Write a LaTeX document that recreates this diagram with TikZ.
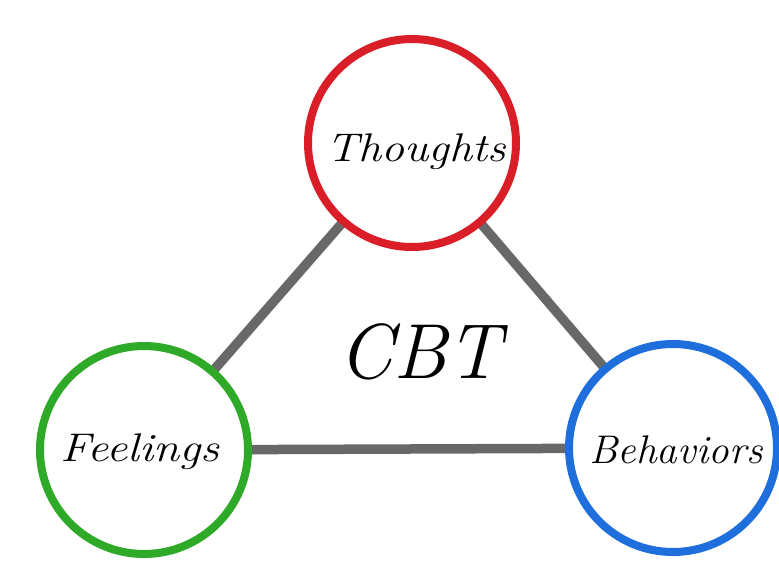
\documentclass[tikz,border=0pt]{standalone}
\begin{document}
\begin{tikzpicture}[x=1pt,y=-1pt,
  link/.style={line width=9.5pt,draw={rgb,255:red,104;green,104;blue,104}},
  bubble/.style={circle,minimum size=208pt,line width=8pt,fill=white,inner sep=0pt},
  word/.style={font=\fontsize{40}{46}\selectfont\itshape}]
\useasboundingbox (0,0) rectangle (779,570);
\fill[white] (0,0) rectangle (779,570);
\coordinate (t) at (412,143);
\coordinate (f) at (144,450);
\coordinate (b) at (673,448);
\draw[link] (t) -- (f);
\draw[link] (t) -- (b);
\draw[link] (f) -- (b);
\node[bubble,draw={rgb,255:red,218;green,30;blue,40}] (T) at (t) {};
\node[bubble,draw={rgb,255:red,46;green,170;blue,40}] (F) at (f) {};
\node[bubble,draw={rgb,255:red,30;green,110;blue,220}] (B) at (b) {};
\node[word] (tl) at (416,152) {\scalebox{1.15}[1]{Thoughts}};
\node[word] (fl) at (140,452) {\scalebox{1.18}[1]{Feelings}};
\node[word] (bl) at (676,450) {\scalebox{1.03}[1]{Behaviors}};
\node[font=\fontsize{78}{86}\selectfont\itshape] (cbt) at (420,352) {CBT};
\end{tikzpicture}
\end{document}
